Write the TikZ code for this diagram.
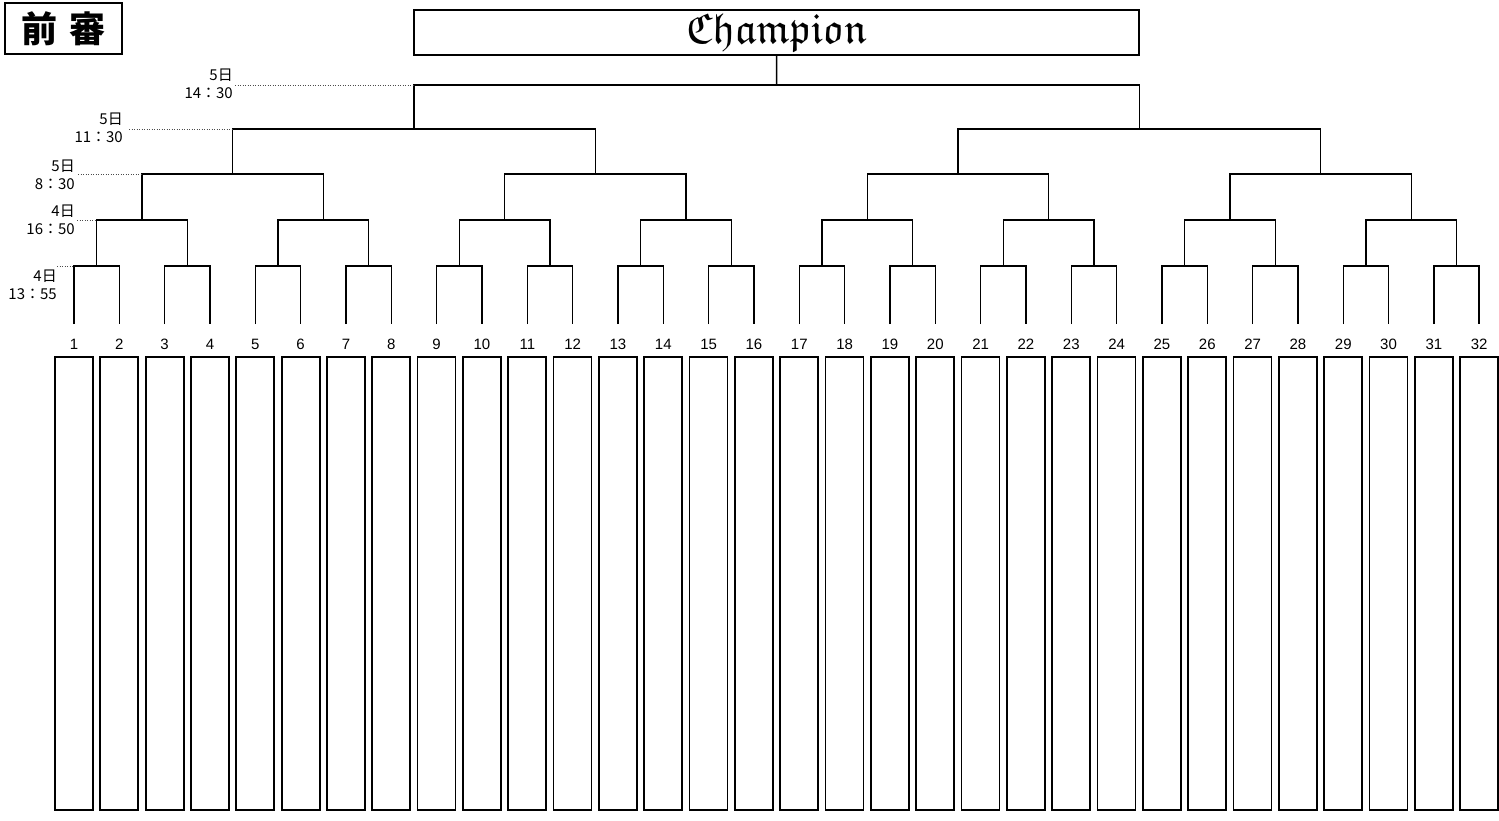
\documentclass[tikz,border=0pt]{standalone}
\usepackage{amsfonts}
\usepackage{fontspec}
\setmainfont{Liberation Sans}
\newfontfamily\jp{Noto Sans CJK JP}
\usetikzlibrary{calc}
\tikzset{
  bracket/.style={line width=1.5pt, line join=miter},
  entrybox/.style={draw, line width=1.7pt, minimum width=38pt, minimum height=453pt, inner sep=0pt},
  numlbl/.style={font=\fontsize{15}{15}\selectfont, inner sep=0pt},
  timelbl/.style={font=\jp\fontsize{15}{18}\selectfont, align=right, anchor=east, inner sep=0pt},
  timeline/.style={line width=0.8pt, dash pattern=on 1pt off 1.5pt, black!70},
}
\begin{document}
\begin{tikzpicture}[x=1pt,y=-1pt]
\useasboundingbox (0,0) rectangle (1499,820);
% players
\foreach \i in {1,...,32}{
  \pgfmathsetmacro\xx{74+(\i-1)*45.33}
  \coordinate (p\i) at (\xx,324);
  \node[numlbl] (n\i) at (\xx,344) {\i};
  \node[entrybox] (b\i) at (\xx,583.5) {};
}
% match coordinates
\foreach \L/\yy in {1/266,2/220,3/174,4/129,5/85}{
  \pgfmathtruncatemacro\nn{32/2^\L}
  \foreach \k in {1,...,\nn}{
    \pgfmathsetmacro\xx{74+((\k-1)*2^\L+(2^\L-1)/2)*45.33}
    \coordinate (m\L-\k) at (\xx,\yy);
  }
}
% first round
\foreach \k in {1,...,16}{
  \pgfmathtruncatemacro\a{2*\k-1}
  \pgfmathtruncatemacro\b{2*\k}
  \draw[bracket] (p\a) |- (m1-\k) -| (p\b);
}
% later rounds
\foreach \L in {2,...,5}{
  \pgfmathtruncatemacro\P{\L-1}
  \pgfmathtruncatemacro\nn{32/2^\L}
  \foreach \k in {1,...,\nn}{
    \pgfmathtruncatemacro\a{2*\k-1}
    \pgfmathtruncatemacro\b{2*\k}
    \draw[bracket] (m\P-\a) |- (m\L-\k) -| (m\P-\b);
  }
}
% champion
\node[draw, line width=1.5pt, minimum width=725pt, minimum height=45pt, inner sep=0pt,
      font=\fontsize{43}{43}\selectfont] (champ) at (776.5,32.5) {$\mathfrak{Champion}$};
\draw[bracket] (m5-1) -- (champ.south);
% title box
\node[draw, line width=2.5pt, minimum width=117pt, minimum height=51pt, inner sep=0pt,
      font=\jp\bfseries\fontsize{36}{36}\selectfont] (title) at (63.5,28.5) {前\hspace{12pt}審};
% time labels
\node[timelbl] (t5) at (233,84) {5日\\14：30};
\node[timelbl] (t4) at (123,128) {5日\\11：30};
\node[timelbl] (t3) at (75,175) {5日\\8：30};
\node[timelbl] (t2) at (75,220) {4日\\16：50};
\node[timelbl] (t1) at (57,285) {4日\\13：55};
\draw[timeline] (t5.east |- m5-1) ++(2,0) -- (m4-1 |- m5-1);
\draw[timeline] (t4.east |- m4-1) ++(6,0) -- (m3-1 |- m4-1);
\draw[timeline] (t3.east |- m3-1) ++(3,0) -- (m2-1 |- m3-1);
\draw[timeline] (t2.east |- m2-1) ++(2,0) -- (m1-1 |- m2-1);
\draw[timeline] (t1.east |- m1-1) -- (p1 |- m1-1);
\end{tikzpicture}
\end{document}
